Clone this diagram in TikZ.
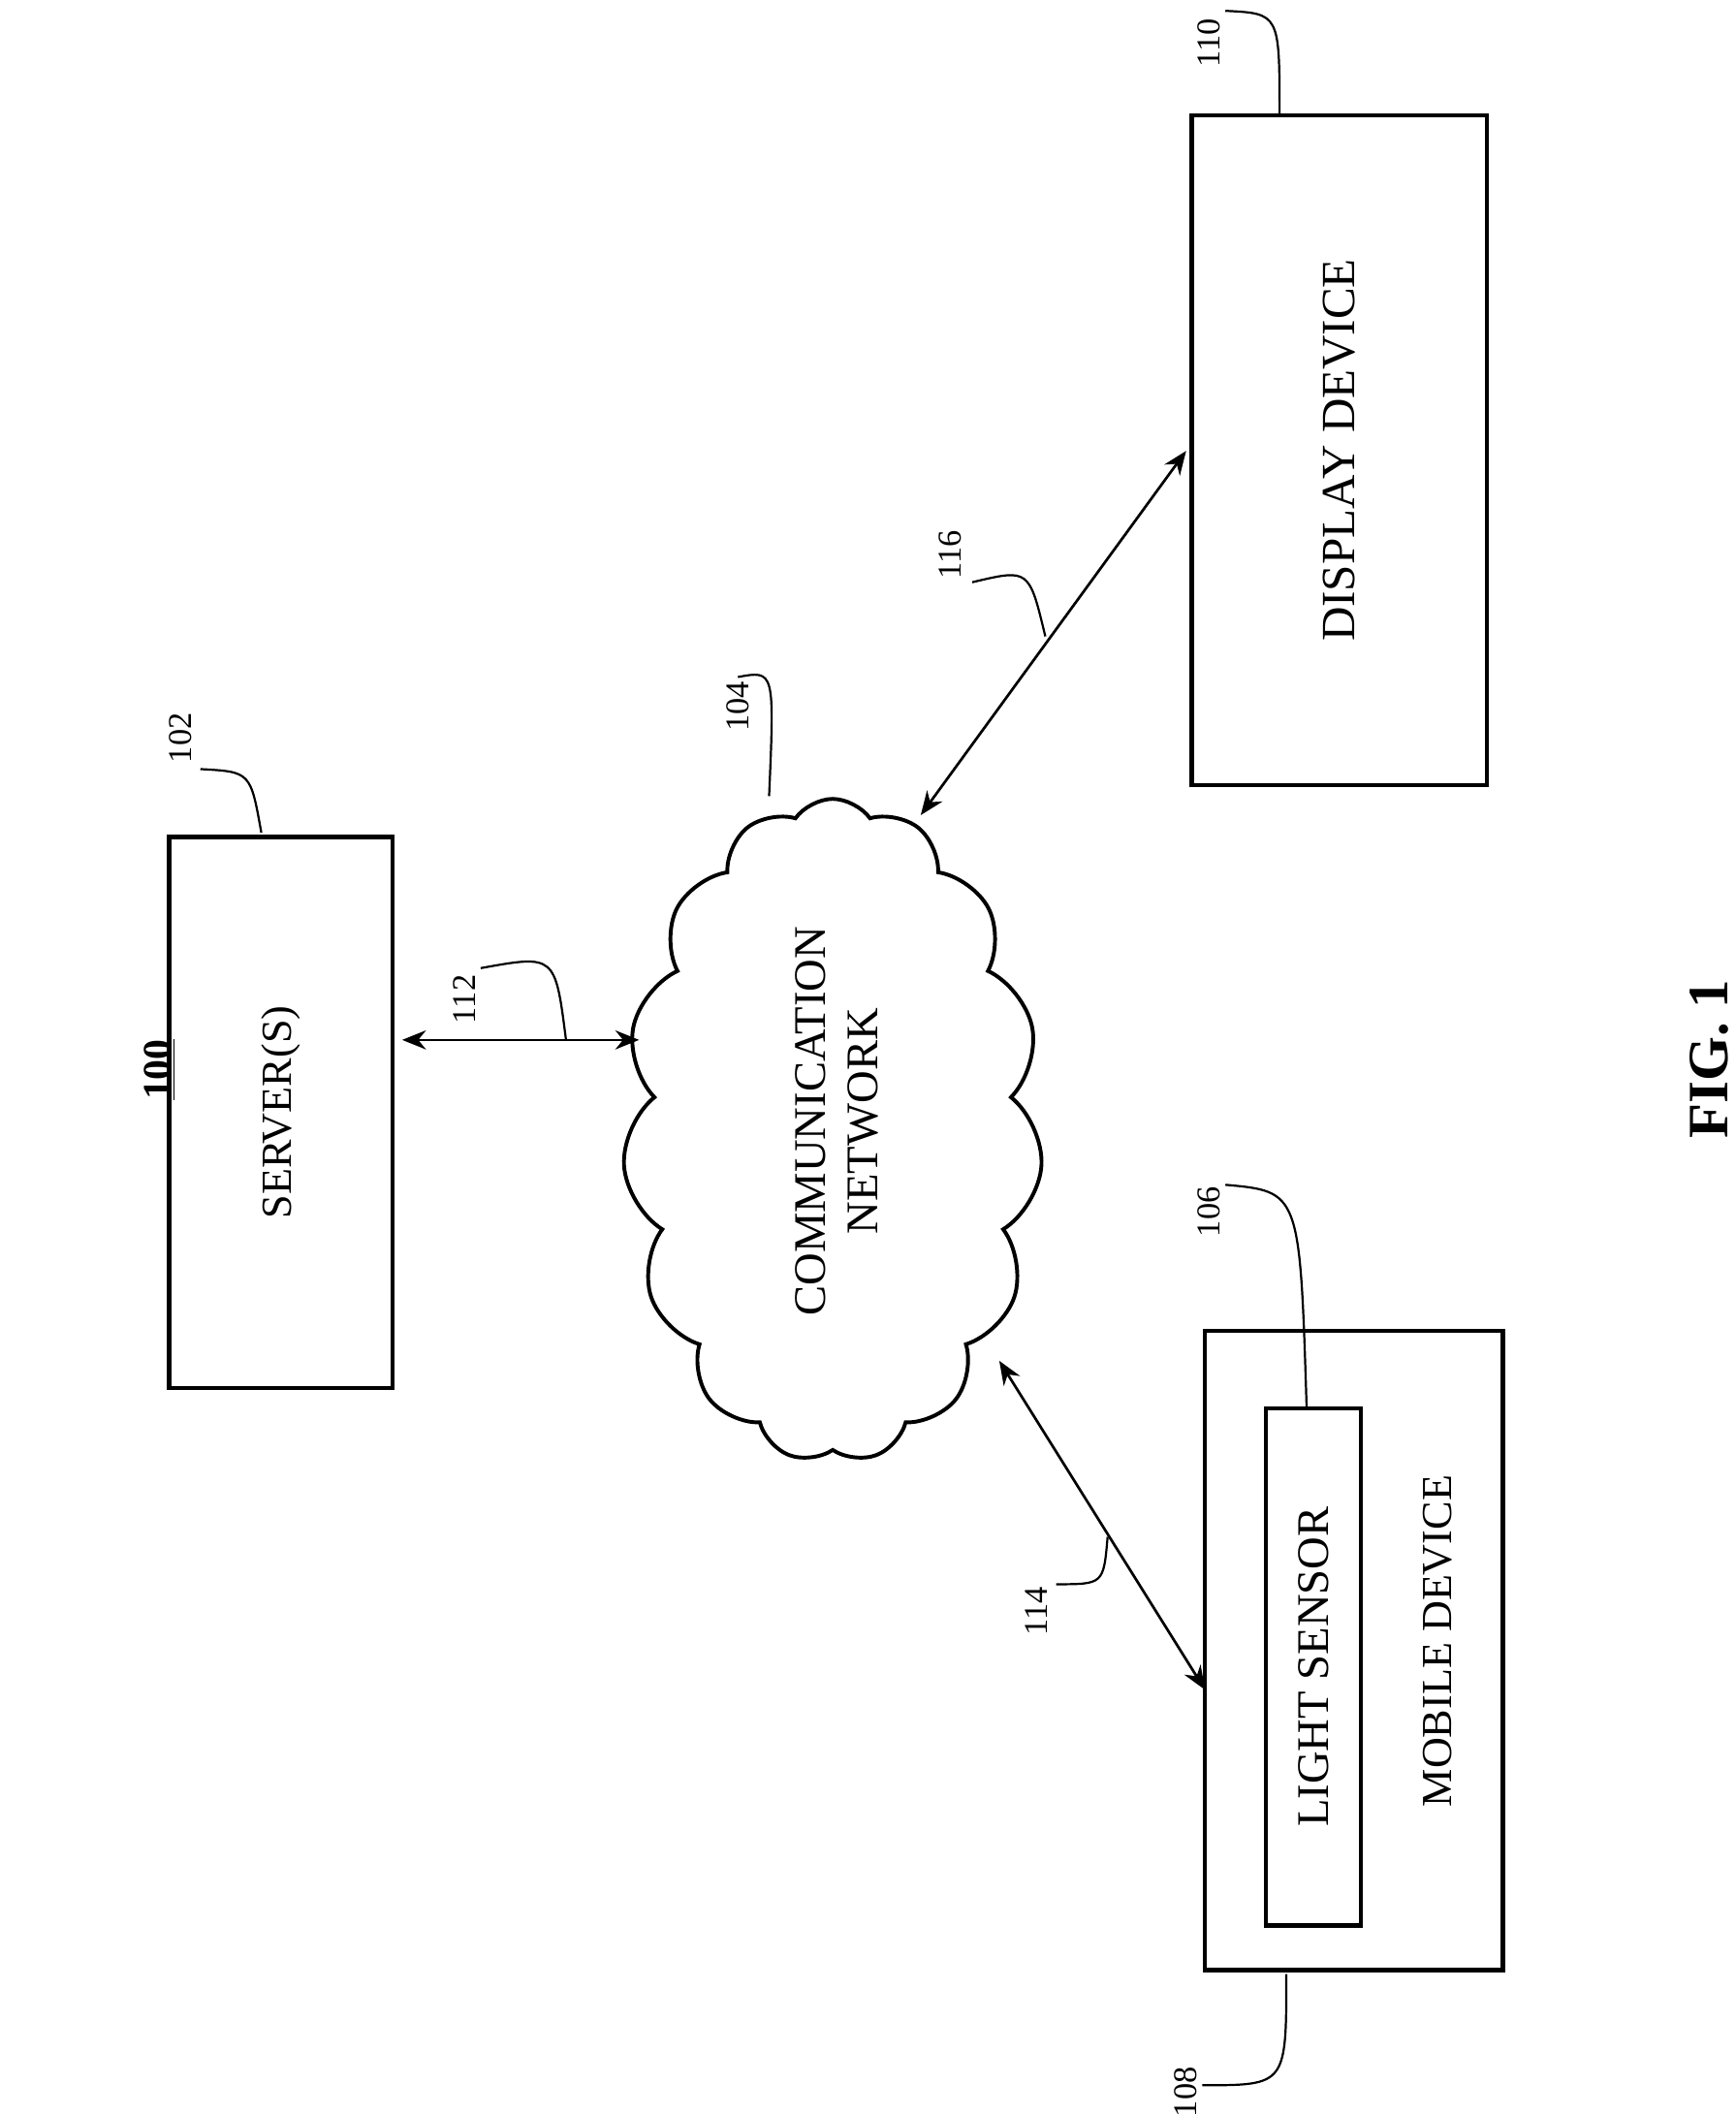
\documentclass[tikz,border=0pt]{standalone}
\usepackage{fontspec}
\setmainfont{Liberation Serif}
\usetikzlibrary{shapes.symbols,arrows.meta}
\begin{document}
\begin{tikzpicture}[x=0.02cm,y=-0.02cm,
  box/.style={draw,line width=1.8pt},
  txt/.style={rotate=90,font=\fontsize{19}{22}\selectfont,align=center},
  lbl/.style={rotate=90,font=\fontsize{14}{16}\selectfont},
  lead/.style={line width=0.9pt},
  conn/.style={line width=1.1pt,{Stealth[length=10pt,width=8pt]}-{Stealth[length=10pt,width=8pt]}}]
\useasboundingbox (0,0) rectangle (1282,1562);
\node[box,minimum width=165*0.02cm,minimum height=407*0.02cm] (srv) at (207.5,821.5) {};
\node[txt,font=\fontsize{18}{21}\selectfont] at (srv) {SERVER(S)};
\node[box,minimum width=218*0.02cm,minimum height=495*0.02cm] (disp) at (989,332.5) {};
\node[txt,font=\fontsize{20}{23}\selectfont] at (disp) {DISPLAY DEVICE};
\node[box,minimum width=220*0.02cm,minimum height=472*0.02cm] (mob) at (1000,1219) {};
\node[box,minimum width=70*0.02cm,minimum height=382*0.02cm] (ls) at (970,1231) {};
\node[txt] at (ls) {LIGHT SENSOR};
\node[txt,font=\fontsize{18}{21}\selectfont] at (1062,1212) {MOBILE DEVICE};
\node[cloud,draw,line width=1.6pt,cloud puffs=15,cloud puff arc=110,aspect=0.63,minimum width=310*0.02cm,minimum height=490*0.02cm] (net) at (615,835) {};
\node[txt] at (618,828) {COMMUNICATION\\NETWORK};
\node[rotate=90,font=\bfseries\fontsize{17}{19}\selectfont] (t100) at (118,790) {\underline{100}};
\node[rotate=90,font=\bfseries\fontsize{24}{26}\selectfont] (fig) at (1262,782) {FIG. 1};
% labels
\node[lbl] (l102) at (133,545) {102};
\node[lbl] (l104) at (545,522) {104};
\node[lbl] (l110) at (893,32) {110};
\node[lbl] (l106) at (893,895) {106};
\node[lbl] (l108) at (876,1545) {108};
\node[lbl] (l112) at (343,738) {112};
\node[lbl] (l116) at (702,410) {116};
\node[lbl] (l114) at (765,1190) {114};
\coordinate (a1) at (297,768); \coordinate (a2) at (472,768);
\coordinate (b1) at (680,602); \coordinate (b2) at (876,333);
\coordinate (c1) at (738,1005); \coordinate (c2) at (890,1248);
\draw[conn] (a1) -- (a2);
\draw[conn] (b1) -- (b2);
\draw[conn] (c1) -- (c2);
\draw[lead] (148,568) .. controls (185,570) .. (193,615);
\draw[lead] (545,500) .. controls (572,495) .. (568,588);
\draw[lead] (905,8) .. controls (945,10) .. (945,85);
\draw[lead] (905,875) .. controls (960,880) .. (965,1040);
\draw[lead] (888,1540) .. controls (950,1540) .. (950,1458);
\draw[lead] (355,715) .. controls (410,705) .. (418,768);
\draw[lead] (718,430) .. controls (760,420) .. (772,470);
\draw[lead] (780,1170) .. controls (815,1170) .. (818,1135);
\end{tikzpicture}
\end{document}
